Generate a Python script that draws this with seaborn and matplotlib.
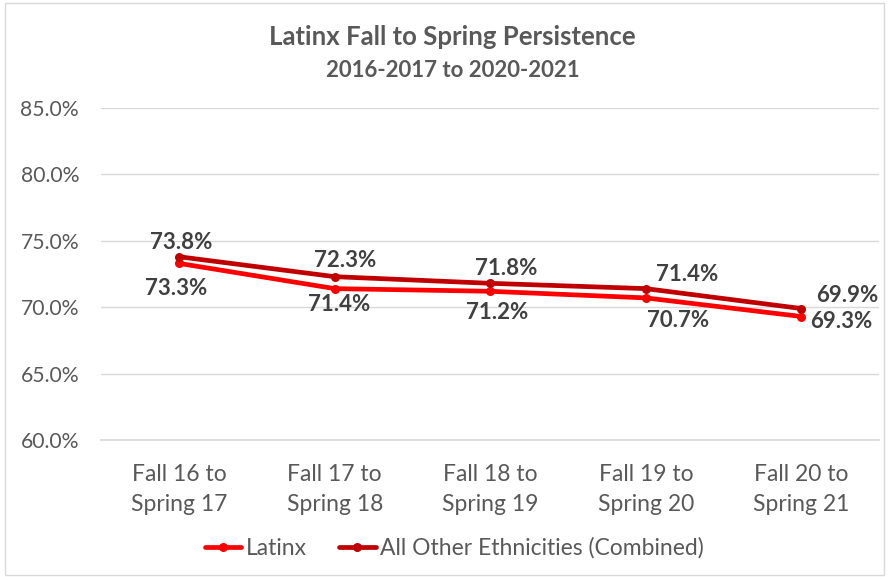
import matplotlib
matplotlib.use("Agg")
import matplotlib.pyplot as plt
import seaborn as sns
import pandas as pd
from matplotlib.patches import Rectangle
from matplotlib.lines import Line2D

categories = ["Fall 16 to\nSpring 17", "Fall 17 to\nSpring 18", "Fall 18 to\nSpring 19",
              "Fall 19 to\nSpring 20", "Fall 20 to\nSpring 21"]
latinx = [73.3, 71.4, 71.2, 70.7, 69.3]
others = [73.8, 72.3, 71.8, 71.4, 69.9]
series_names = ["Latinx", "All Other Ethnicities (Combined)"]
colors = ["#FF0000", "#C00000"]
yticks = [60, 65, 70, 75, 80, 85]

# label placement (pixel offsets from each point), layout only
other_off = [(2, 14), (10, 16), (16, 15), (41, 14), (46, 13)]
latinx_off = [(-3, -25), (4, -16), (7, -21), (32, -23), (40, -5)]

sns.set_theme(style="white")
plt.rcParams['font.family'] = ['Lato', 'DejaVu Sans']
grey = "#595959"
lblc = "#404040"

df = pd.DataFrame({
    "x": list(range(len(categories))) * 2,
    "value": latinx + others,
    "series": [series_names[0]] * len(latinx) + [series_names[1]] * len(others),
})

fig = plt.figure(figsize=(8.89, 5.77), dpi=100)
ax = fig.add_axes([0.114, 0.2374, 0.875, 0.5754])

sns.lineplot(data=df, x="x", y="value", hue="series", palette=colors,
             hue_order=series_names, marker="o", markersize=6.5, markeredgewidth=0,
             linewidth=3.4, ax=ax, legend=False, zorder=3)

ax.set_xlim(-0.5, len(categories) - 0.5)
ax.set_ylim(60, 85)
ax.set_yticks(yticks)
ax.set_yticklabels([f"{v:.1f}%" for v in yticks], color=grey, fontsize=15.2)
ax.set_xticks(range(len(categories)))
ax.set_xticklabels(categories, color=grey, fontsize=16.5, linespacing=1.55)
ax.tick_params(axis="y", pad=16, length=0)
ax.tick_params(axis="x", pad=17, length=0)
ax.set_xlabel("")
ax.set_ylabel("")
ax.grid(axis="y", color="#D9D9D9", linewidth=1)
for s in ax.spines.values():
    s.set_visible(False)
ax.spines["bottom"].set_visible(True)
ax.spines["bottom"].set_color("#D9D9D9")

for i, (lv, ov) in enumerate(zip(latinx, others)):
    ax.annotate(f"{ov:.1f}%", (i, ov), xytext=other_off[i], textcoords="offset pixels",
                ha="center", va="center", fontsize=16, fontweight="bold", color=lblc)
    ax.annotate(f"{lv:.1f}%", (i, lv), xytext=latinx_off[i], textcoords="offset pixels",
                ha="center", va="center", fontsize=16, fontweight="bold", color=lblc)

fig.text(0.509, 0.936, "Latinx Fall to Spring Persistence", ha="center", va="center",
         fontsize=18.5, fontweight="bold", color=grey)
fig.text(0.509, 0.878, "2016-2017 to 2020-2021", ha="center", va="center",
         fontsize=16, fontweight="bold", color=grey)

handles = [Line2D([0], [0], color=c, linewidth=3.4, marker="o", markersize=6.5,
                  markeredgewidth=0) for c in colors]
fig.legend(handles, series_names, loc="center", bbox_to_anchor=(0.511, 0.05), ncol=2,
           frameon=False, fontsize=16.5, labelcolor=grey, handlelength=1.6,
           handletextpad=0.2, columnspacing=1.4)

fig.add_artist(Rectangle((0.006, 0.004), 0.988, 0.99, transform=fig.transFigure,
                         fill=False, edgecolor="#D9D9D9", linewidth=1))

fig.savefig("out.png", dpi=100)
